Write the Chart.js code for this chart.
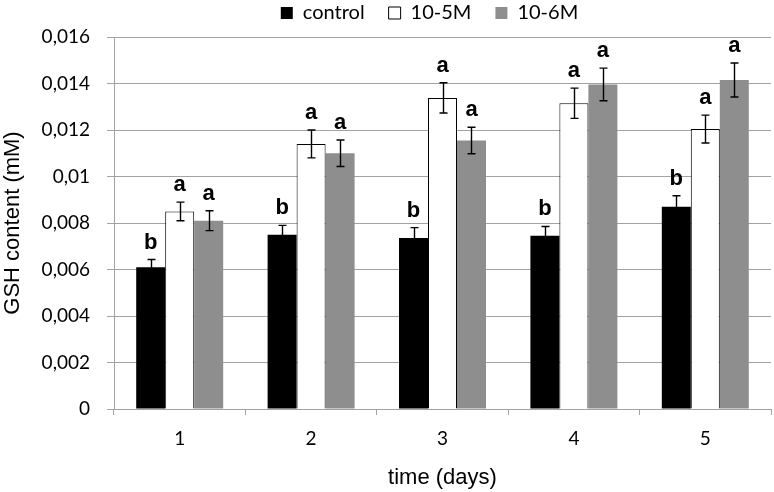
<!DOCTYPE html>
<html>
<head>
<meta charset="utf-8">
<script src="https://cdn.jsdelivr.net/npm/chart.js@4/dist/chart.umd.min.js"></script>
<style>
  html, body { margin: 0; padding: 0; background: #fff; }
  #wrap { width: 774px; height: 492px; }
</style>
</head>
<body>
<div id="wrap"><canvas id="c" width="774" height="492"></canvas></div>
<script>
// ---- data ----
const categories = ['1', '2', '3', '4', '5'];
const seriesNames = ['control', '10-5M', '10-6M'];
const controlValues = [0.0061, 0.0075, 0.00735, 0.00745, 0.0087];
const m5Values      = [0.0085, 0.0114, 0.01338, 0.01315, 0.01204];
const m6Values      = [0.0081, 0.0110, 0.01155, 0.01396, 0.01415];
const controlErrors = [0.00033, 0.0004, 0.00045, 0.0004, 0.00047];
const m5Errors      = [0.0004, 0.0006, 0.00065, 0.00065, 0.0006];
const m6Errors      = [0.00043, 0.00057, 0.00057, 0.0007, 0.00073];
const controlLetters = ['b', 'b', 'b', 'b', 'b'];
const m5Letters      = ['a', 'a', 'a', 'a', 'a'];
const m6Letters      = ['a', 'a', 'a', 'a', 'a'];
const yTicksMin = 0, yTicksMax = 0.016, yTicksStep = 0.002;

const errorSets = [controlErrors, m5Errors, m6Errors];
const letterSets = [controlLetters, m5Letters, m6Letters];

const errPlugin = {
  id: 'errbars',
  afterDatasetsDraw(chart) {
    const ctx = chart.ctx;
    const ys = chart.scales.y;
    ctx.save();
    chart.data.datasets.forEach((ds, di) => {
      const meta = chart.getDatasetMeta(di);
      meta.data.forEach((bar, i) => {
        const v = ds.data[i], e = errorSets[di][i];
        const yt = ys.getPixelForValue(v + e);
        const yb = ys.getPixelForValue(v - e);
        const x = Math.round(bar.x) + 0.5;
        ctx.strokeStyle = '#000';
        ctx.lineWidth = 1.4;
        ctx.beginPath();
        ctx.moveTo(x, yt); ctx.lineTo(x, yb);
        ctx.moveTo(x - 4, yt); ctx.lineTo(x + 4, yt);
        ctx.moveTo(x - 4, yb); ctx.lineTo(x + 4, yb);
        ctx.stroke();
        ctx.fillStyle = '#000';
        ctx.font = 'bold 22px "Liberation Sans", Arial, sans-serif';
        ctx.textAlign = 'center';
        ctx.textBaseline = 'alphabetic';
        ctx.fillText(letterSets[di][i], bar.x, yt - 11);
      });
    });
    ctx.restore();
  }
};

const legendFit = {
  id: 'legendFit',
  beforeInit(chart) {
    const lg = chart.legend;
    if (!lg) return;
    const orig = lg.fit;
    lg.fit = function () {
      orig.call(this);
      this.height = 58;
      if (this.lineWidths && this.lineWidths.length) this.lineWidths[0] -= 88;
    };
  }
};

const gridColor = '#a3a3a3';

new Chart(document.getElementById('c'), {
  type: 'bar',
  data: {
    labels: categories,
    datasets: [
      { label: seriesNames[0], data: controlValues, backgroundColor: '#000000', borderColor: '#000000', borderWidth: 0 },
      { label: seriesNames[1], data: m5Values, backgroundColor: '#ffffff', borderColor: '#000000', borderWidth: 1 },
      { label: seriesNames[2], data: m6Values, backgroundColor: '#8e8e8e', borderColor: '#8e8e8e', borderWidth: 0 }
    ]
  },
  options: {
    responsive: false,
    animation: false,
    devicePixelRatio: 1,
    layout: { padding: { top: -21, left: 0, right: 3, bottom: 0 } },
    datasets: { bar: { categoryPercentage: 0.662, barPercentage: 1.0 } },
    plugins: {
      legend: {
        position: 'top',
        labels: {
          boxWidth: 12, boxHeight: 12, padding: 24,
          color: '#000',
          font: { family: 'Lato', size: 20 }
        }
      },
      tooltip: { enabled: false }
    },
    scales: {
      x: {
        afterFit(s) { s.height = 83; },
        grid: { display: true, drawOnChartArea: false, drawTicks: true, tickLength: 6, color: gridColor, offset: true },
        border: { display: true, color: gridColor, width: 1 },
        ticks: { color: '#000', font: { family: 'Lato', size: 19 }, padding: 12 },
        title: { display: true, text: 'time (days)', color: '#000', font: { family: '"Liberation Sans", Arial', size: 22 }, padding: { top: 0, bottom: 1 } }
      },
      y: {
        min: yTicksMin, max: yTicksMax,
        afterFit(s) { s.width = 114; },
        grid: { color: gridColor, tickLength: 7, drawTicks: true },
        border: { display: true, color: gridColor, width: 1 },
        ticks: {
          stepSize: yTicksStep,
          color: '#000',
          font: { family: 'Lato', size: 19 },
          padding: 17,
          callback: (v) => String(Number(v.toFixed(3))).replace('.', ',')
        },
        title: { display: true, text: 'GSH content (mM)', color: '#000', font: { family: '"Liberation Sans", Arial', size: 22 }, padding: { top: 0, bottom: 0 } }
      }
    }
  },
  plugins: [legendFit, errPlugin]
});
</script>
</body>
</html>
